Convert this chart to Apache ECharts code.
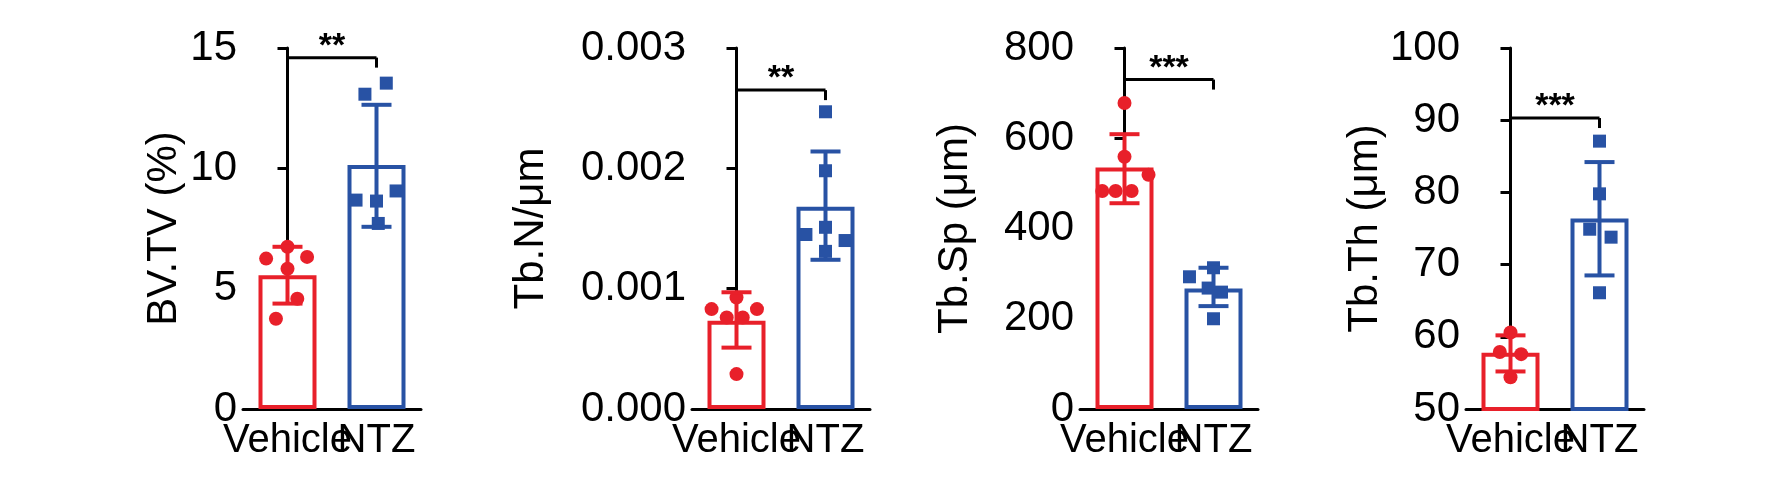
<!DOCTYPE html>
<html>
<head>
    <meta charset="utf-8">
    <title>Bone histomorphometry</title>
    <script src="https://cdn.jsdelivr.net/npm/echarts@6/dist/echarts.min.js"></script>
</head>
<body style="margin:0;background:#fff">
<div id="container" style="width:1779px;height:484px"></div>
<script type="text/javascript">
    // 分组
    var categories = ['Vehicle', 'NTZ'];
    var yNames = ['BV.TV (%)', 'Tb.N/\u03bcm', 'Tb.Sp (\u03bcm)', 'Tb.Th (\u03bcm)'];
    var yMin = [0, 0, 0, 50];
    var yMax = [15, 0.003, 800, 100];
    var yStep = [5, 0.001, 200, 10];
    var stars = ['**', '**', '***', '***'];
    var bracketY = [14.6, 0.00265, 730, 90.3];

    // 均值与误差线 (Vehicle, NTZ)
    var means = [[5.56, 10.14], [0.000733, 0.00168], [535, 267], [57.8, 76.4]];
    var errLow = [[4.38, 7.57], [0.00051, 0.00124], [456, 228], [55.2, 68.5]];
    var errHigh = [[6.74, 12.64], [0.00097, 0.00214], [609, 313], [60.2, 84.2]];

    // 单个样本点
    var vehPts = [
        [6.74, 6.25, 6.32, 5.83, 4.58, 3.75],
        [0.000926, 0.00083, 0.00083, 0.00076, 0.00076, 0.00029],
        [678, 559, 519, 483, 483, 483],
        [60.6, 57.9, 57.6, 54.4]
    ];
    var vehJitter = [
        [0, -0.24, 0.22, 0, 0.11, -0.13],
        [0, -0.28, 0.23, -0.11, 0.07, 0],
        [0, 0, 0.27, -0.25, -0.1, 0.08],
        [0, -0.12, 0.12, 0]
    ];
    var ntzPts = [
        [13.08, 13.54, 8.68, 8.64, 9.06, 7.71],
        [0.00247, 0.00198, 0.00151, 0.00145, 0.0014, 0.00131],
        [313, 293, 268, 259, 200],
        [87.1, 79.8, 74.9, 73.8, 66.1]
    ];
    var ntzJitter = [
        [-0.13, 0.11, -0.23, 0, 0.22, 0.02],
        [0, 0, 0, -0.22, 0.22, 0],
        [0, -0.27, -0.06, 0.09, 0],
        [0, 0, -0.11, 0.13, 0]
    ];

    var RED = '#e8202a';
    var BLUE = '#2852a4';
    var gridLeft = [243, 692, 1080, 1466];
    var nameGap = [58, 140, 104, 72];
    var font = 'Liberation Sans, Arial, sans-serif';

    var grids = [], xAxes = [], yAxes = [], series = [];

    function errRender(params, api) {
        var x = api.value(0);
        var lo = api.coord([x, api.value(1)]);
        var hi = api.coord([x, api.value(2)]);
        var st = {stroke: api.visual('color'), lineWidth: 4};
        return {
            type: 'group',
            children: [
                {type: 'line', shape: {x1: lo[0], y1: lo[1], x2: hi[0], y2: hi[1]}, style: st},
                {type: 'line', shape: {x1: lo[0] - 15, y1: lo[1], x2: lo[0] + 15, y2: lo[1]}, style: st},
                {type: 'line', shape: {x1: hi[0] - 15, y1: hi[1], x2: hi[0] + 15, y2: hi[1]}, style: st}
            ]
        };
    }

    function bracketRender(params, api) {
        var a = api.coord([api.value(0), api.value(2)]);
        var b = api.coord([api.value(1), api.value(2)]);
        var ax = a[0], ay = a[1], bx = b[0], by = b[1];
        var st = {stroke: '#000', lineWidth: 3};
        return {
            type: 'group',
            children: [
                {type: 'line', shape: {x1: ax, y1: ay + 10, x2: ax, y2: ay}, style: st},
                {type: 'line', shape: {x1: ax, y1: ay, x2: bx, y2: by}, style: st},
                {type: 'line', shape: {x1: bx, y1: by, x2: bx, y2: by + 10}, style: st},
                {type: 'text', x: (ax + bx) / 2, y: ay + 6,
                    style: {text: api.value(3) === 3 ? '***' : '**', fill: '#000', font: 'bold 34px ' + font,
                        align: 'center', verticalAlign: 'bottom'}}
            ]
        };
    }

    for (var i = 0; i < 4; i++) {
        grids.push({left: gridLeft[i], top: 48, width: 178, height: 361});
        xAxes.push({
            type: 'category', gridIndex: i, data: categories,
            axisLine: {lineStyle: {color: '#000', width: 3}},
            axisTick: {alignWithLabel: true, length: 10, lineStyle: {width: 3}},
            axisLabel: {color: '#000', fontSize: 40, fontFamily: font, margin: 12, interval: 0}
        });
        xAxes.push({type: 'value', gridIndex: i, min: -0.5, max: 1.5, show: false});
        yAxes.push({
            type: 'value', gridIndex: i, min: yMin[i], max: yMax[i], interval: yStep[i],
            name: yNames[i], nameLocation: 'middle', nameGap: nameGap[i], nameRotate: 90,
            nameTextStyle: {color: '#000', fontSize: 42, fontFamily: font},
            splitLine: {show: false},
            axisLine: {show: true, lineStyle: {color: '#000', width: 3}},
            axisTick: {show: true, length: 10, lineStyle: {width: 3}},
            axisLabel: {color: '#000', fontSize: 42, fontFamily: font, margin: 6,
                formatter: (function (s) {
                    return function (v) { return s < 1 ? v.toFixed(3) : String(v); };
                })(yStep[i])}
        });

        series.push({
            type: 'bar', xAxisIndex: 2 * i, yAxisIndex: i, barWidth: 58,
            data: [
                {value: means[i][0], itemStyle: {color: '#fff', borderColor: RED, borderWidth: 4}},
                {value: means[i][1], itemStyle: {color: '#fff', borderColor: BLUE, borderWidth: 4}}
            ],
            z: 1
        });

        var vPts = vehPts[i].map(function (v, k) { return [vehJitter[i][k], v]; });
        var nPts = ntzPts[i].map(function (v, k) { return [1 + ntzJitter[i][k], v]; });
        series.push({type: 'scatter', xAxisIndex: 2 * i + 1, yAxisIndex: i, data: vPts,
            symbol: 'circle', symbolSize: 14, itemStyle: {color: RED, opacity: 1}, z: 3});
        series.push({type: 'scatter', xAxisIndex: 2 * i + 1, yAxisIndex: i, data: nPts,
            symbol: 'rect', symbolSize: 13, itemStyle: {color: BLUE, opacity: 1}, z: 3});

        series.push({type: 'custom', xAxisIndex: 2 * i + 1, yAxisIndex: i, renderItem: errRender,
            itemStyle: {color: RED}, data: [[0, errLow[i][0], errHigh[i][0]]], z: 4});
        series.push({type: 'custom', xAxisIndex: 2 * i + 1, yAxisIndex: i, renderItem: errRender,
            itemStyle: {color: BLUE}, data: [[1, errLow[i][1], errHigh[i][1]]], z: 4});

        series.push({type: 'custom', xAxisIndex: 2 * i + 1, yAxisIndex: i, renderItem: bracketRender,
            data: [[0, 1, bracketY[i], stars[i].length]], clip: false, z: 5});
    }

    var chart = echarts.init(document.getElementById('container'));
    chart.setOption({
        animation: false,
        grid: grids,
        xAxis: xAxes,
        yAxis: yAxes,
        series: series
    });
</script>
</body>
</html>
